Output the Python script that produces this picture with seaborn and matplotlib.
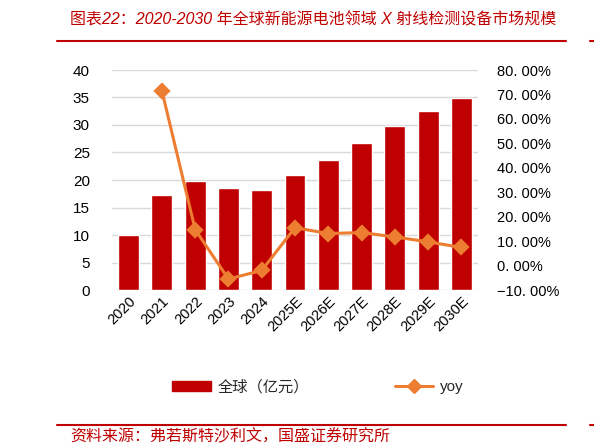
import matplotlib
matplotlib.use("Agg")
import matplotlib.pyplot as plt
import seaborn as sns
from matplotlib.patches import Patch
from matplotlib.lines import Line2D
from matplotlib.ticker import FuncFormatter

# data
years = ["2020", "2021", "2022", "2023", "2024", "2025E", "2026E",
         "2027E", "2028E", "2029E", "2030E"]
market = [10.0, 17.3, 19.8, 18.55, 18.2, 20.9, 23.6, 26.7, 29.8, 32.5, 34.9]
yoy_years = years[1:]
yoy = [71.5, 14.7, -5.5, -2.0, 15.5, 13.1, 13.5, 11.7, 9.7, 7.4]

title = "图表22：2020-2030 年全球新能源电池领域 X 射线检测设备市场规模"
source = "资料来源：弗若斯特沙利文，国盛证券研究所"

BAR = "#C00000"
LINE = "#ED7D31"
RED = "#C00000"

sns.set_theme(style="white")
plt.rcParams["font.family"] = ["Liberation Sans", "Noto Sans CJK SC", "DejaVu Sans"]

fig = plt.figure(figsize=(5.94, 4.48), dpi=100)
ax = fig.add_axes([112 / 594, 158 / 448, 366 / 594, 220 / 448])

sns.barplot(x=years, y=market, order=years, color=BAR, width=0.63,
            saturation=1, ax=ax)
ax.set_ylim(0, 40)
ax.set_yticks(range(0, 41, 5))
ax.yaxis.grid(True, color="#d9d9d9", lw=1)
ax.set_axisbelow(True)
for s in ax.spines.values():
    s.set_visible(False)
ax.tick_params(axis="y", length=0, pad=16, labelsize=11, labelcolor="black")
ax.tick_params(axis="x", length=0, pad=3, labelsize=10.5, labelcolor="black")
plt.setp(ax.get_xticklabels(), rotation=45, ha="right", rotation_mode="anchor")
ax.set_xlabel("")
ax.set_ylabel("")

ax2 = ax.twinx()
sns.pointplot(x=yoy_years, y=yoy, order=years, color=LINE, markers="D",
              markersize=7, linewidth=2.2, ax=ax2)
ax2.set_ylim(-10, 80)
ax2.set_yticks(range(-10, 81, 10))
ax2.yaxis.set_major_formatter(
    FuncFormatter(lambda v, p: f"{v:.2f}".replace(".", ". ").replace("-", "\u2212") + "%"))
ax2.tick_params(axis="y", length=0, pad=14, labelsize=10.5, labelcolor="black")
ax2.grid(False)
for s in ax2.spines.values():
    s.set_visible(False)
ax2.set_ylabel("")
ax.set_xlim(-0.5, len(years) - 0.5)

handles = [Patch(facecolor=BAR, edgecolor=BAR),
           Line2D([0], [0], color=LINE, lw=2.2, marker="D", markersize=7)]
fig.legend(handles, ["全球（亿元）", "yoy"], loc="center", ncol=2,
           bbox_to_anchor=(0.535, 1 - 387 / 448), frameon=False,
           fontsize=11, handlelength=2.5, handleheight=0.6,
           handletextpad=0.45, columnspacing=5.6)

# header / footer
fig.text(70 / 594, 1 - 20 / 448, title, color=RED, fontsize=11.5,
         style="italic", va="center", ha="left")
fig.text(70 / 594, 1 - 437 / 448, source, color=RED, fontsize=11.5,
         style="italic", va="center", ha="left")
for y in (41, 425):
    fig.add_artist(Line2D([57 / 594, 566 / 594], [1 - y / 448] * 2,
                          color=RED, lw=1.5))
    fig.add_artist(Line2D([590 / 594, 1.0], [1 - y / 448] * 2,
                          color=RED, lw=1.5))

fig.savefig("out.png", dpi=100)
